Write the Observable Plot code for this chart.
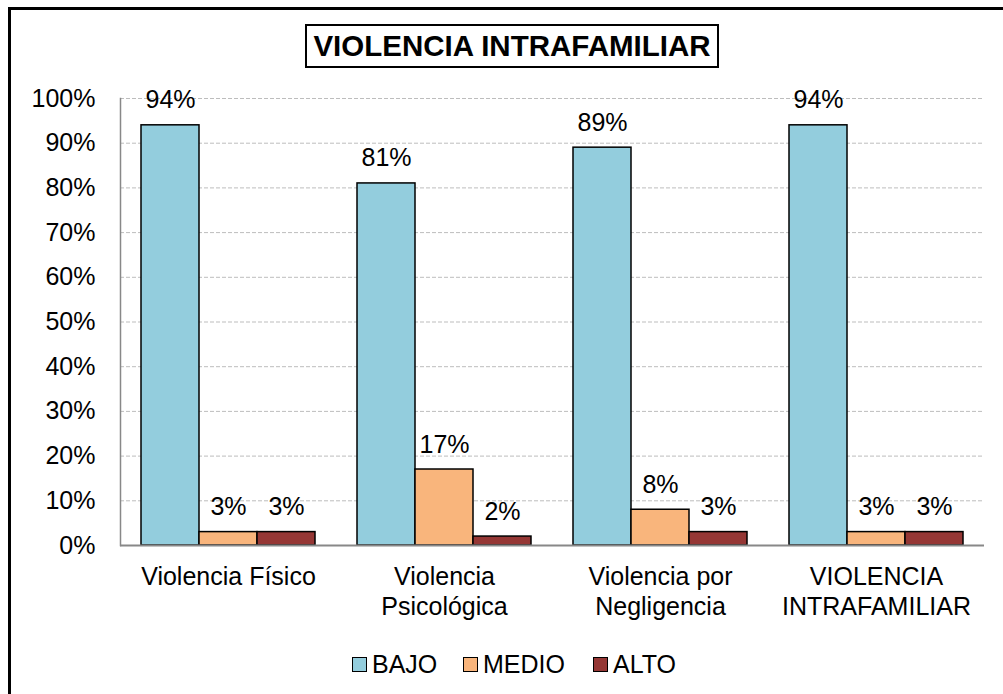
<!DOCTYPE html>
<html><head><meta charset="utf-8">
<script src="https://cdn.jsdelivr.net/npm/d3@7"></script>
<script src="https://cdn.jsdelivr.net/npm/@observablehq/plot@0.6"></script>
<style>
body{margin:0;background:#fff;font-family:"Liberation Sans",Arial,sans-serif;}
#wrap{position:relative;width:1003px;height:694px;overflow:hidden;}
#frame{position:absolute;left:8px;top:7px;width:1100px;height:800px;border:3px solid #000;box-sizing:border-box;}
#title{position:absolute;left:305px;top:24px;width:414px;height:44px;border:2px solid #000;box-sizing:border-box;font-weight:bold;font-size:29.5px;line-height:40px;text-align:center;white-space:nowrap;}
#chart{position:absolute;left:0;top:0;}
.leg{position:absolute;top:650px;font-size:25px;line-height:28px;display:flex;align-items:center;white-space:nowrap;}
.sw{display:inline-block;width:13px;height:13px;border:1.5px solid #000;margin-right:5px;}
</style>
</head><body>
<div id="wrap">
  <div id="chart"></div>
  <div id="frame"></div>
  <div id="title">VIOLENCIA INTRAFAMILIAR</div>
  <div id="legend"></div>
</div>
<script>
const categories = ["Violencia Físico", "Violencia Psicológica", "Violencia por Negligencia", "VIOLENCIA INTRAFAMILIAR"];
const categoryLabels = ["Violencia Físico", "Violencia\nPsicológica", "Violencia por\nNegligencia", "VIOLENCIA\nINTRAFAMILIAR"];
const series = ["BAJO", "MEDIO", "ALTO"];
const bajo = [94, 81, 89, 94];
const medio = [3, 17, 8, 3];
const alto = [3, 2, 3, 3];
const colors = ["#93CDDD", "#F9B57C", "#953735"];
const yTicks = [0, 10, 20, 30, 40, 50, 60, 70, 80, 90, 100];

const values = [bajo, medio, alto];
const rows = [];
categories.forEach((c, i) => series.forEach((s, j) => rows.push({cat: c, series: s, value: values[j][i]})));

const chart = Plot.plot({
  width: 1003, height: 694,
  marginLeft: 118, marginRight: 18, marginTop: 98, marginBottom: 149,
  style: {fontFamily: "'Liberation Sans', Arial, sans-serif", fontSize: "25px", color: "#000", background: "transparent"},
  fx: {domain: categories, padding: 0, label: null, axis: null},
  x: {domain: series, paddingInner: 0, paddingOuter: 0.36, axis: null},
  y: {domain: [0, 100], label: null, axis: null},
  color: {domain: series, range: colors},
  marks: [
    Plot.ruleY(yTicks.slice(1), {stroke: "#bdbdbd", strokeDasharray: "4,2", strokeWidth: 1}),
    Plot.axisY({ticks: yTicks, tickFormat: d => d + "%", tickSize: 0, tickPadding: 25, fontSize: 25, label: null}),
    Plot.axisFx({anchor: "bottom", tickSize: 0, tickPadding: 19, fontSize: 25, lineHeight: 1.17, label: null,
      tickFormat: d => categoryLabels[categories.indexOf(d)]}),
    Plot.barY(rows, {fx: "cat", x: "series", y: "value", fill: "series", stroke: "#000", strokeWidth: 1.5}),
    Plot.text(rows, {fx: "cat", x: "series", y: "value", text: d => d.value + "%", dy: -17, lineAnchor: "bottom", fontSize: 25, fill: "#000"}),
    Plot.ruleY([0], {stroke: "#888", strokeWidth: 2}),
    Plot.frame({anchor: "left", stroke: "#888", strokeWidth: 1.5, facet: "super"})
  ]
});
document.getElementById("chart").appendChild(chart);

const legendPos = [352, 463, 593];
const legend = document.getElementById("legend");
series.forEach((s, j) => {
  const d = document.createElement("div");
  d.className = "leg";
  d.style.left = legendPos[j] + "px";
  d.innerHTML = `<span class="sw" style="background:${colors[j]}"></span>${s}`;
  legend.appendChild(d);
});
</script>
</body></html>
